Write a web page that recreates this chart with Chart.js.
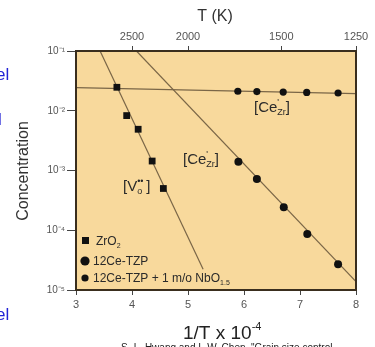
<!DOCTYPE html>
<html>
<head>
<meta charset="utf-8">
<script src="https://cdn.jsdelivr.net/npm/chart.js@4"></script>
<style>
  html, body { margin: 0; padding: 0; background: #fff; }
  #wrap { position: relative; width: 375px; height: 347px; overflow: hidden; }
</style>
</head>
<body>
<div id="wrap"><canvas id="concChart" width="375" height="347"></canvas></div>
<script>
// données (x = 1/T x 10^4)
const zrX = [3.73, 3.905, 4.11, 4.36, 4.56];
const zrY = [0.0247, 0.0083, 0.0049, 0.00144, 0.0005];

const ceX = [5.89, 6.23, 6.70, 7.12, 7.68];
const ceY = [0.0212, 0.0209, 0.0205, 0.0203, 0.0198];

const ceNbX = [5.90, 6.23, 6.71, 7.13, 7.68];
const ceNbY = [0.0014, 0.00072, 0.000242, 0.0000865, 0.0000269];

// droites d'ajustement (extrémités)
const flatLineX = [3, 8];
const flatLineY = [0.0244, 0.0194];
const ceLineX = [4.08, 8];
const ceLineY = [0.1, 0.0000138];
const voLineX = [3.43, 5.27];
const voLineY = [0.1, 0.0000222];

const bottomTicks = [3, 4, 5, 6, 7, 8];
const topTempsK = [2500, 2000, 1500, 1250];
const yDecades = [-5, -4, -3, -2, -1];
const supDigits = { '-': '⁻', '1': '¹', '2': '²', '3': '³', '4': '⁴', '5': '⁵' };

const FONT = '"Liberation Sans", Arial, sans-serif';
const lineColor = '#7a6647';

function pts(xs, ys) {
    return xs.map((x, i) => ({ x: x, y: ys[i] }));
}

// texte avec exposants / indices
function drawRich(ctx, parts, x, y, size, color) {
    ctx.fillStyle = color;
    ctx.textBaseline = 'alphabetic';
    ctx.textAlign = 'left';
    let cx = x;
    let lastX = x;
    parts.forEach(p => {
        if (p.k === 'sup') {
            ctx.font = Math.round(size * 0.6) + 'px ' + FONT;
            ctx.fillText(p.t, p.over ? lastX : cx, y - size * 0.45);
            if (!p.over) cx += ctx.measureText(p.t).width;
        } else if (p.k === 'sub') {
            ctx.font = Math.round(size * 0.6) + 'px ' + FONT;
            lastX = cx;
            ctx.fillText(p.t, cx, y + size * 0.22);
            cx += ctx.measureText(p.t).width;
        } else {
            ctx.font = size + 'px ' + FONT;
            ctx.fillText(p.t, cx, y);
            cx += ctx.measureText(p.t).width;
            lastX = cx;
        }
    });
}

const decorPlugin = {
    id: 'decor',
    beforeDraw(chart) {
        const { ctx, chartArea: a } = chart;
        ctx.save();
        ctx.fillStyle = '#f8d99c';
        ctx.fillRect(a.left, a.top, a.right - a.left, a.bottom - a.top);
        ctx.restore();
    },
    afterDraw(chart) {
        const { ctx, chartArea: a } = chart;
        ctx.save();
        // cadre
        ctx.strokeStyle = '#3a2e1e';
        ctx.lineWidth = 2;
        ctx.strokeRect(a.left, a.top, a.right - a.left, a.bottom - a.top);

        // titres
        ctx.fillStyle = '#333';
        ctx.font = '16px ' + FONT;
        ctx.textAlign = 'center';
        ctx.textBaseline = 'middle';
        ctx.fillText('T (K)', 215, 17);

        ctx.save();
        ctx.translate(24, 171);
        ctx.rotate(-Math.PI / 2);
        ctx.font = '16px ' + FONT;
        ctx.fillText('Concentration', 0, 0);
        ctx.restore();

        drawRich(ctx, [{ t: '1/T x 10' }, { t: '-4', k: 'sup' }], 183, 339, 19, '#222');

        // référence (coupée en bas)
        ctx.font = '10px ' + FONT;
        ctx.fillStyle = '#222';
        ctx.textAlign = 'left';
        ctx.textBaseline = 'alphabetic';
        ctx.fillText('S.-L. Hwang and I.-W. Chen, "Grain size control', 121, 351);

        // texte bleu de la diapo, coupé à gauche
        ctx.fillStyle = '#2323d6';
        ctx.font = '17px ' + FONT;
        ctx.fillText('el', -4, 80);
        ctx.fillText('el', -4, 320);
        ctx.fillText('l', -2, 125);

        // étiquettes dans le graphe
        const tc = '#2a2a2a';
        drawRich(ctx, [{ t: '[Ce' }, { t: 'Zr', k: 'sub' }, { t: "'", k: 'sup', over: true }, { t: ']' }], 254, 112, 15, tc);
        drawRich(ctx, [{ t: '[Ce' }, { t: 'Zr', k: 'sub' }, { t: "'", k: 'sup', over: true }, { t: ']' }], 183, 164, 15, tc);
        drawRich(ctx, [{ t: '[V' }, { t: 'o', k: 'sub' }, { t: '••', k: 'sup', over: true }, { t: ' ]' }], 123, 191, 15, tc);

        // légende
        ctx.fillStyle = '#111';
        ctx.fillRect(82, 237, 7, 7);
        ctx.beginPath(); ctx.arc(85, 261, 4.6, 0, Math.PI * 2); ctx.fill();
        ctx.beginPath(); ctx.arc(85, 278, 3.6, 0, Math.PI * 2); ctx.fill();
        drawRich(ctx, [{ t: 'ZrO' }, { t: '2', k: 'sub' }], 96, 245, 12, tc);
        drawRich(ctx, [{ t: '12Ce-TZP' }], 93, 265, 12, tc);
        drawRich(ctx, [{ t: '12Ce-TZP + 1 m/o NbO' }, { t: '1.5', k: 'sub' }], 93, 282, 12, tc);
        ctx.restore();
    }
};

const tickFont = { family: FONT, size: 11 };

new Chart(document.getElementById('concChart').getContext('2d'), {
    type: 'scatter',
    data: {
        datasets: [
            {
                label: 'ZrO2',
                data: pts(zrX, zrY),
                pointStyle: 'rect',
                pointRadius: 4.8,
                backgroundColor: '#111',
                borderColor: '#111',
                borderWidth: 0
            },
            {
                label: '12Ce-TZP',
                data: pts(ceX, ceY),
                pointRadius: 3.6,
                backgroundColor: '#111',
                borderColor: '#111',
                borderWidth: 0
            },
            {
                label: '12Ce-TZP + 1 m/o NbO1.5',
                data: pts(ceNbX, ceNbY),
                pointRadius: 4,
                backgroundColor: '#111',
                borderColor: '#111',
                borderWidth: 0
            },
            { data: pts(flatLineX, flatLineY), showLine: true, pointRadius: 0, borderColor: lineColor, borderWidth: 1.2 },
            { data: pts(ceLineX, ceLineY), showLine: true, pointRadius: 0, borderColor: lineColor, borderWidth: 1.2 },
            { data: pts(voLineX, voLineY), showLine: true, pointRadius: 0, borderColor: lineColor, borderWidth: 1.2 }
        ]
    },
    options: {
        responsive: false,
        animation: false,
        layout: { padding: { left: 0, right: 19, top: 0, bottom: 0 } },
        plugins: {
            legend: { display: false },
            tooltip: { enabled: false }
        },
        scales: {
            x: {
                type: 'linear',
                position: 'bottom',
                min: 3,
                max: 8,
                afterBuildTicks: s => { s.ticks = bottomTicks.map(v => ({ value: v })); },
                ticks: { color: '#555', font: tickFont, padding: 3 },
                grid: { drawOnChartArea: false, tickLength: 5, color: '#444' },
                border: { display: false },
                afterFit: s => { s.height = 57; }
            },
            x2: {
                type: 'linear',
                position: 'top',
                min: 3,
                max: 8,
                afterBuildTicks: s => { s.ticks = topTempsK.map(t => ({ value: 10000 / t })); },
                ticks: {
                    color: '#555',
                    font: tickFont,
                    padding: 2,
                    callback: v => Math.round(10000 / v)
                },
                grid: { drawOnChartArea: false, tickLength: 5, color: '#444' },
                border: { display: false },
                afterFit: s => { s.height = 51; }
            },
            y: {
                type: 'logarithmic',
                min: 1e-5,
                max: 1e-1,
                afterBuildTicks: s => { s.ticks = yDecades.map(d => ({ value: Math.pow(10, d) })); },
                ticks: {
                    color: '#555',
                    font: { family: FONT, size: 10 },
                    padding: 2,
                    callback: v => {
                        const d = Math.round(Math.log10(v));
                        return '10' + String(d).split('').map(c => supDigits[c]).join('');
                    }
                },
                grid: { drawOnChartArea: false, tickLength: 9, color: '#444' },
                border: { display: false },
                afterFit: s => { s.width = 76; }
            }
        }
    },
    plugins: [decorPlugin]
});
</script>
</body>
</html>
